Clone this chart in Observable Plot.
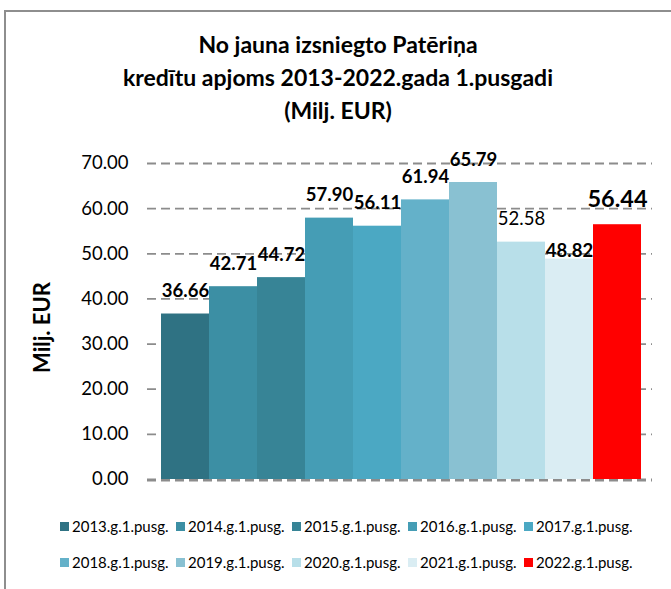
<!DOCTYPE html>
<html><head><meta charset="utf-8">
<script src="https://cdn.jsdelivr.net/npm/d3@7"></script>
<script src="https://cdn.jsdelivr.net/npm/@observablehq/plot@0.6"></script>
<style>
body{margin:0;background:#fff;}
#wrap{position:relative;width:671px;height:589px;overflow:hidden;font-family:Lato,sans-serif;background:#fff;color:#000;}
.bt{position:absolute;left:5px;top:10px;width:666px;height:2px;background:#8e8e8e;}
.bl{position:absolute;left:4px;top:10px;width:2px;height:579px;background:#8e8e8e;}
#title{position:absolute;left:5px;width:666px;top:28px;text-align:center;font-weight:bold;font-size:23px;line-height:33px;}
#chart{position:absolute;left:0;top:130px;}
#legend{position:absolute;left:0;top:0;width:671px;height:589px;pointer-events:none;}
.li{position:absolute;display:flex;align-items:center;font-size:15px;white-space:nowrap;}
.sw{width:9px;height:9px;margin-right:3px;}
</style></head><body>
<div id="wrap">
 <div class="bt"></div><div class="bl"></div>
 <div id="title">No jauna izsniegto Patēriņa<br>kredītu apjoms 2013-2022.gada 1.pusgadi<br>(Milj. EUR)</div>
 <div id="chart"></div>
 <div id="legend"></div>
</div>
<script>
const categories = ["2013.g.1.pusg.","2014.g.1.pusg.","2015.g.1.pusg.","2016.g.1.pusg.","2017.g.1.pusg.","2018.g.1.pusg.","2019.g.1.pusg.","2020.g.1.pusg.","2021.g.1.pusg.","2022.g.1.pusg."];
const values = [36.66, 42.71, 44.72, 57.90, 56.11, 61.94, 65.79, 52.58, 48.82, 56.44];
const yTicks = [0, 10, 20, 30, 40, 50, 60, 70];
const palette = ["#2f7283","#3c8fa4","#378496","#459db5","#4ba8c3","#64b1c9","#89c1d2","#b8dfe9","#daedf3","#ff0000"];

const data = categories.map((c, i) => ({cat: c, value: values[i], i}));
const fmt = d => d.value.toFixed(2);

const chart = Plot.plot({
  width: 671,
  height: 370,
  marginLeft: 147,
  marginRight: 19,
  marginTop: 33,
  marginBottom: 21,
  style: {fontFamily: "Lato, sans-serif", fontSize: "18.5px", color: "#000", background: "transparent", overflow: "visible"},
  x: {domain: categories, paddingInner: 0, paddingOuter: 0.244, align: 0.55, axis: null},
  y: {domain: [0, 70], axis: null},
  color: {domain: categories, range: palette},
  marks: [
    Plot.ruleY(yTicks, {stroke: "#8c8c8c", strokeWidth: 1.8, strokeDasharray: "9,5"}),
    Plot.barY(data, {x: "cat", y: "value", fill: "cat"}),
    Plot.ruleY([0], {stroke: "#8c8c8c", strokeWidth: 1.8, strokeDasharray: "9,5", dy: 1}),
    Plot.axisY(yTicks, {tickSize: 0, tickPadding: 19, tickFormat: d => d.toFixed(2), label: null, fill: "#000"}),
    Plot.text(data.filter(d => d.i !== 7 && d.i !== 8 && d.i !== 9), {x: "cat", y: "value", text: fmt, lineAnchor: "bottom", dy: -17, fontWeight: "bold", fontSize: 18.5, fill: "#000"}),
    Plot.text(data.filter(d => d.i === 7), {x: "cat", y: "value", text: fmt, lineAnchor: "bottom", dy: -17, fontWeight: "normal", fontSize: 18.5, fill: "#000"}),
    Plot.text(data.filter(d => d.i === 8), {x: "cat", y: "value", text: fmt, lineAnchor: "bottom", dy: -2, fontWeight: "bold", fontSize: 18.5, fill: "#000"}),
    Plot.text(data.filter(d => d.i === 9), {x: "cat", y: "value", text: fmt, lineAnchor: "bottom", dy: -18, fontWeight: "bold", fontSize: 23.5, fill: "#000"}),
    Plot.text(["Milj. EUR"], {frameAnchor: "left", text: d => d, rotate: -90, dx: -105, dy: 6, textAnchor: "middle", fontWeight: "bold", fontSize: 22, fill: "#000"})
  ]
});
document.getElementById("chart").appendChild(chart);

const legend = document.getElementById("legend");
categories.forEach((c, i) => {
  const row = Math.floor(i / 5), col = i % 5;
  const el = document.createElement("div");
  el.className = "li";
  el.style.left = (60 + col * 116) + "px";
  el.style.top = (row === 0 ? 516 : 552) + "px";
  el.style.height = "20px";
  const sw = document.createElement("span");
  sw.className = "sw";
  sw.style.background = palette[i];
  const t = document.createElement("span");
  t.textContent = c;
  el.appendChild(sw); el.appendChild(t);
  legend.appendChild(el);
});
</script>
</body></html>
